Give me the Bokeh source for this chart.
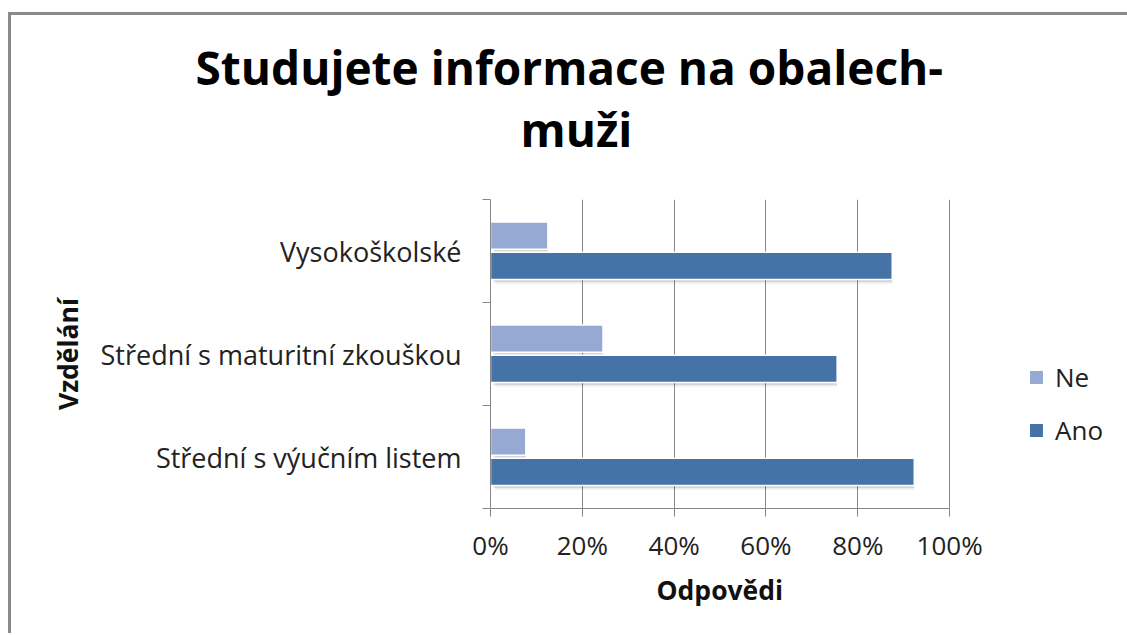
from bokeh.plotting import figure
from bokeh.layouts import column
from bokeh.models import (Range1d, FixedTicker, NumeralTickFormatter, Legend, LegendItem, ColumnDataSource,
                          Title)
from bokeh.transform import dodge
from bokeh.embed import file_html
from bokeh.resources import INLINE

# ---- data ----
categories = ["Střední s výučním listem", "Střední s maturitní zkouškou", "Vysokoškolské"]
ne_values = [0.077, 0.245, 0.125]
ano_values = [0.923, 0.755, 0.875]
series_names = ["Ne", "Ano"]
x_ticks = [0, 0.2, 0.4, 0.6, 0.8, 1.0]
title_lines = ["Studujete informace na obalech-", "muži"]
x_title = "Odpovědi"
y_title = "Vzdělání"

FONT = "Open Sans"
C_NE = "#95A9D3"
C_ANO = "#4572A7"
GRID = "#878787"
W = 1116
H_TITLE = 184
H_CHART = 434

# ---- title strip: same horizontal borders as the chart, titles stacked above a tiny empty frame ----
t = figure(width=W, height=H_TITLE, x_range=Range1d(0, 1), y_range=Range1d(0, 1),
           output_backend="svg", toolbar_location=None, x_axis_location=None, y_axis_location=None,
           min_border_left=479, min_border_right=8, min_border_top=150, min_border_bottom=0)
t.outline_line_color = None
t.grid.grid_line_color = None
t.background_fill_color = "white"
t.border_fill_color = "white"
t.add_layout(Title(text=title_lines[1], align="left", offset=30, text_font=FONT, text_font_style="bold",
                   text_font_size="46px", text_color="black", standoff=11), "above")
t.add_layout(Title(text=title_lines[0], align="left", offset=-295, text_font=FONT, text_font_style="bold",
                   text_font_size="46px", text_color="black", standoff=-14), "above")

# ---- chart ----
centers = [i + 0.5 for i in range(len(categories))]
src = ColumnDataSource(dict(y=centers, ne=ne_values, ano=ano_values, cat=categories))

# frame extends to the right so the legend can live inside it; axis is bounded to 0..100 %
p = figure(width=W, height=H_CHART, x_range=Range1d(0, 1.37), y_range=Range1d(0, len(categories)),
           output_backend="svg", toolbar_location=None,
           min_border_left=479, min_border_right=8, min_border_top=0, min_border_bottom=125)
p.outline_line_color = None
p.background_fill_color = "white"
p.border_fill_color = "white"

# shadows
for off, a in ((0.006, 0.10), (0.010, 0.07)):
    p.hbar(y=dodge("y", 0.15 - off * 4, range=p.y_range), right="ne", left=off, height=0.265, source=src,
           fill_color="black", fill_alpha=a, line_color=None)
    p.hbar(y=dodge("y", -0.145 - off * 4, range=p.y_range), right="ano", left=off, height=0.265, source=src,
           fill_color="black", fill_alpha=a, line_color=None)

r_ne = p.hbar(y=dodge("y", 0.15, range=p.y_range), right="ne", left=0, height=0.265, source=src,
              fill_color=C_NE, line_color="white", line_width=1.5)
r_ano = p.hbar(y=dodge("y", -0.145, range=p.y_range), right="ano", left=0, height=0.265, source=src,
               fill_color=C_ANO, line_color="white", line_width=1.5)

# x axis
xa = p.xaxis[0]
xa.bounds = (x_ticks[0], x_ticks[-1])
xa.ticker = FixedTicker(ticks=x_ticks)
xa.formatter = NumeralTickFormatter(format="0%")
xa.axis_line_color = GRID
xa.major_tick_line_color = GRID
xa.major_tick_out = 8
xa.major_tick_in = 0
xa.minor_tick_line_color = None
xa.major_label_text_font = FONT
xa.major_label_text_font_size = "26px"
xa.major_label_text_color = "#222222"
xa.major_label_standoff = 10

# x axis title, centred under the 0-100 % part of the axis
p.add_layout(Title(text=x_title, align="left", offset=166, text_font=FONT, text_font_style="bold",
                   text_font_size="26.5px", text_color="#111111", standoff=8), "below")

# y axis
ya = p.yaxis[0]
ya.ticker = FixedTicker(ticks=centers, minor_ticks=list(range(len(categories) + 1)))
ya.major_label_overrides = {c: t_ for c, t_ in zip(centers, categories)}
ya.axis_line_color = GRID
ya.major_tick_line_color = None
ya.major_tick_out = 0
ya.minor_tick_line_color = GRID
ya.minor_tick_out = 8
ya.minor_tick_in = 0
ya.major_label_text_font = FONT
ya.major_label_text_font_size = "27px"
ya.major_label_text_color = "#222222"
ya.major_label_standoff = 21
ya.axis_label = y_title
ya.axis_label_text_font = FONT
ya.axis_label_text_font_style = "bold"
ya.axis_label_text_font_size = "26.5px"
ya.axis_label_text_color = "#111111"
ya.axis_label_standoff = 12

p.xgrid.ticker = FixedTicker(ticks=x_ticks)
p.xgrid.grid_line_color = GRID
p.ygrid.grid_line_color = None

legend = Legend(items=[LegendItem(label=series_names[0], renderers=[r_ne]),
                       LegendItem(label=series_names[1], renderers=[r_ano])],
                location=(537, 60), orientation="vertical",
                label_text_font=FONT, label_text_font_size="26px", label_text_color="#222222",
                glyph_width=18, glyph_height=18, label_height=22, spacing=17, padding=0, margin=0,
                label_standoff=10, border_line_color=None, background_fill_alpha=0)
p.add_layout(legend)

layout = column(t, p, spacing=0)
layout.margin = (12, 0, 0, 8)
layout.styles = {"border-left": "3px solid #8a8a8a", "border-top": "3px solid #8a8a8a"}

open("out.html", "w").write(file_html(layout, INLINE))
